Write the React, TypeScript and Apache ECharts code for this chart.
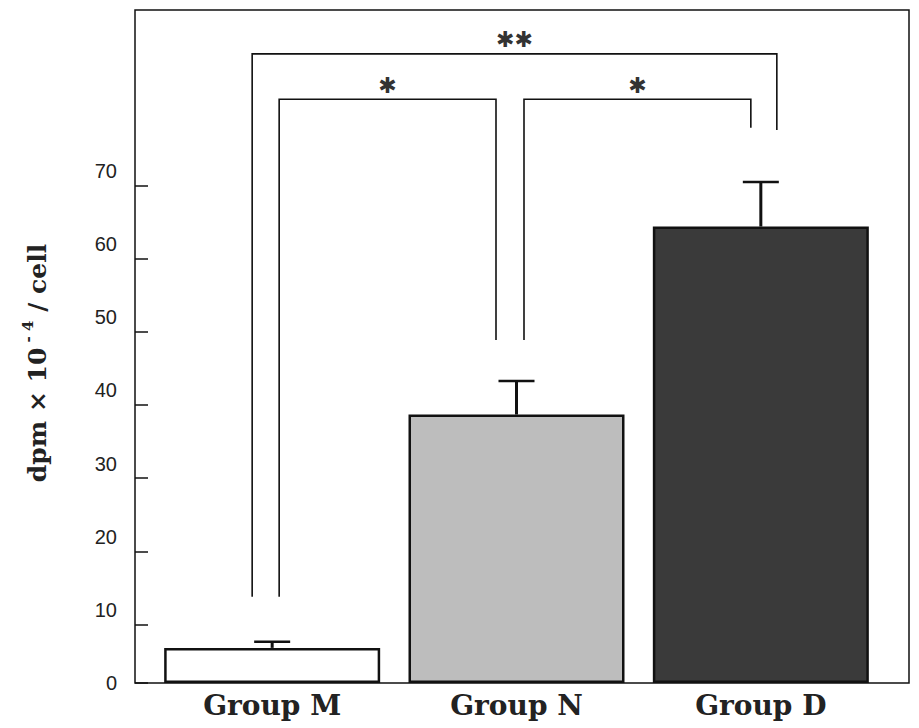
import React, { useEffect, useRef } from "react";
import * as echarts from "echarts";

// ---- data ----
const categories = ["Group M", "Group N", "Group D"];
const meanValues = [4.8, 36.7, 62.4];
const errorValues = [0.85, 4.6, 6.1];
const barColors = ["#ffffff", "#bdbdbd", "#3a3a3a"];

const yMin = 0;
const yMax = 92;
const yInterval = 10;
const yLabelMax = 70;
const tickShift = 2; // printed tick marks sit slightly below their labels

// significance brackets: from category, to category, bar height, left leg end, right leg end
const bracketFrom = [0, 0, 1];
const bracketTo = [2, 1, 2];
const bracketHeight = [86, 79.8, 79.8];
const bracketLeftEnd = [11.8, 11.8, 46.9];
const bracketRightEnd = [75.6, 46.9, 75.9];
const bracketLabels = ["✱✱", "✱", "✱"];
// pixel offsets of legs from category centres (style)
const bracketLeftOffset = [-20, 7, 7.5];
const bracketRightOffset = [16, -20.5, -10];

const plotTop = 10;
const plotBottom = 45;
const plotHeight = 728 - plotTop - plotBottom;

export default function App() {
  const ref = useRef<HTMLDivElement>(null);

  useEffect(() => {
    document.body.style.margin = "0";
    const chart = echarts.init(ref.current!, undefined, { renderer: "svg" });

    const barData = meanValues.map((v, i) => ({
      value: v,
      itemStyle: { color: barColors[i], borderColor: "#111", borderWidth: 2.5 },
    }));

    const errData = meanValues.map((v, i) => [i, v, errorValues[i]]);
    const bracketData = bracketFrom.map((f, i) => [
      f,
      bracketHeight[i],
      bracketTo[i],
      bracketLeftEnd[i],
      bracketRightEnd[i],
    ]);

    // tick grid: same scale as main axis, covering tickShift..yLabelMax
    const pxPerUnit = plotHeight / (yMax - yMin);
    const tickGridTop = plotTop + plotHeight - pxPerUnit * (yLabelMax - tickShift);

    const option: any = {
      animation: false,
      backgroundColor: "#ffffff",
      grid: [
        { left: 135, right: 10, top: plotTop, bottom: plotBottom, show: true, borderColor: "#111", borderWidth: 1.5, backgroundColor: "transparent" },
        { left: 150, right: 36, top: plotTop, bottom: plotBottom },
        { left: 135, right: 10, top: tickGridTop, bottom: plotBottom },
      ],
      xAxis: [
        { gridIndex: 0, type: "category", data: categories, show: false },
        {
          gridIndex: 1,
          type: "category",
          data: categories,
          axisLine: { show: false },
          axisTick: { show: false },
          axisLabel: { margin: 8, color: "#222", fontSize: 28, fontWeight: "bold", fontFamily: "DejaVu Serif" },
        },
        { gridIndex: 2, type: "category", data: categories, show: false },
      ],
      yAxis: [
        {
          gridIndex: 0,
          type: "value",
          position: "left",
          min: yMin,
          max: yMax,
          interval: yInterval,
          axisLine: { show: false },
          axisTick: { show: false },
          splitLine: { show: false },
          axisLabel: {
            margin: 18,
            color: "#222",
            fontSize: 20,
            fontFamily: "Liberation Sans",
            showMaxLabel: false,
            formatter: (v: number) => (v <= yLabelMax ? String(v) : ""),
          },
        },
        {
          gridIndex: 2,
          type: "value",
          position: "left",
          min: yMin + tickShift,
          max: yLabelMax,
          splitNumber: 7,
          minInterval: yInterval,
          maxInterval: yInterval,
          axisLine: { show: false },
          axisLabel: { show: false },
          splitLine: { show: false },
          axisTick: {
            show: true,
            inside: true,
            length: 13,
            lineStyle: { color: "#111", width: 1.5 },
          },
        },
        { gridIndex: 1, type: "value", min: yMin, max: yMax, show: false },
      ],
      graphic: [
        {
          type: "text",
          x: 35,
          y: 363,
          rotation: Math.PI / 2,
          style: {
            text: "{a|dpm × 10}{s| - 4}{a| / cell}",
            align: "center",
            verticalAlign: "middle",
            fill: "#222",
            rich: {
              a: { font: "bold 25px 'DejaVu Serif'", fill: "#222", lineHeight: 30, verticalAlign: "bottom" },
              s: { font: "bold 15px 'DejaVu Serif'", fill: "#222", lineHeight: 30, verticalAlign: "top", padding: [0, 0, 12, 0] },
            },
          },
        },
      ],
      series: [
        {
          type: "bar",
          xAxisIndex: 1,
          yAxisIndex: 2,
          data: barData,
          barWidth: 216,
        },
        {
          type: "custom",
          xAxisIndex: 1,
          yAxisIndex: 2,
          data: errData,
          z: 5,
          renderItem: (params: any, api: any) => {
            const i = api.value(0);
            const v = api.value(1);
            const e = api.value(2);
            const p0 = api.coord([i, v]);
            const p1 = api.coord([i, v + e]);
            const half = 18;
            return {
              type: "group",
              children: [
                { type: "line", shape: { x1: p0[0], y1: p0[1], x2: p1[0], y2: p1[1] }, style: { stroke: "#111", lineWidth: 3 } },
                { type: "line", shape: { x1: p1[0] - half, y1: p1[1], x2: p1[0] + half, y2: p1[1] }, style: { stroke: "#111", lineWidth: 2.5 } },
              ],
            };
          },
        },
        {
          type: "custom",
          xAxisIndex: 1,
          yAxisIndex: 2,
          data: bracketData,
          z: 6,
          renderItem: (params: any, api: any) => {
            const k = params.dataIndex;
            const from = api.value(0);
            const h = api.value(1);
            const to = api.value(2);
            const le = api.value(3);
            const re = api.value(4);
            const top = api.coord([from, h]);
            const xl = top[0] + bracketLeftOffset[k];
            const xr = api.coord([to, h])[0] + bracketRightOffset[k];
            const yl = api.coord([from, le])[1];
            const yr = api.coord([to, re])[1];
            return {
              type: "group",
              children: [
                {
                  type: "polyline",
                  shape: { points: [[xl, yl], [xl, top[1]], [xr, top[1]], [xr, yr]] },
                  style: { stroke: "#111", lineWidth: 1.6, fill: "none" },
                },
                {
                  type: "text",
                  x: (xl + xr) / 2,
                  y: top[1] - 3,
                  style: {
                    text: bracketLabels[k],
                    align: "center",
                    verticalAlign: "bottom",
                    font: "bold 22px 'DejaVu Sans'",
                    fill: "#333",
                  },
                },
              ],
            };
          },
        },
      ],
    };

    chart.setOption(option);
    return () => chart.dispose();
  }, []);

  return <div ref={ref} style={{ width: 919, height: 728 }} />;
}
